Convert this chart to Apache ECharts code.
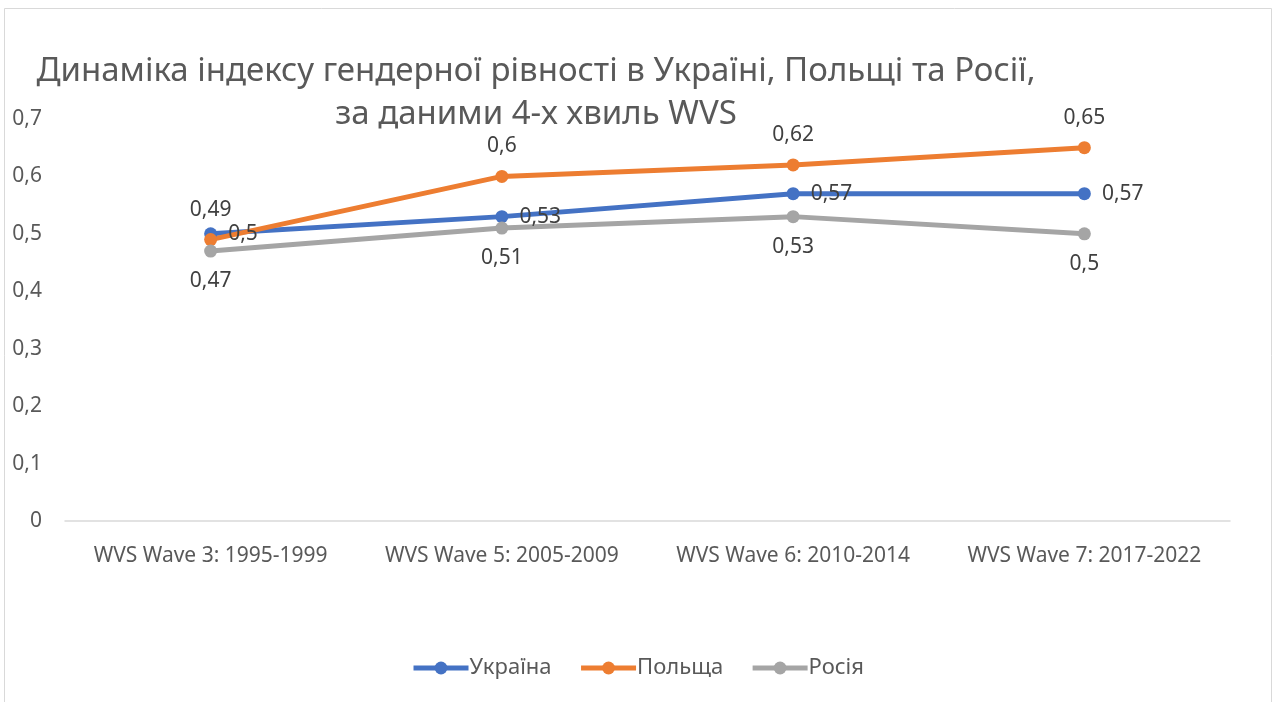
<!DOCTYPE html>
<html>
<head>
<meta charset="utf-8">
<script src="https://cdn.jsdelivr.net/npm/echarts@6/dist/echarts.min.js"></script>
<style>
  html, body { margin: 0; padding: 0; background: #fff; }
  #chart { width: 1275px; height: 702px; }
</style>
</head>
<body>
<div id="chart"></div>
<script>
// хвилі WVS
var waves = ['WVS Wave 3: 1995-1999', 'WVS Wave 5: 2005-2009', 'WVS Wave 6: 2010-2014', 'WVS Wave 7: 2017-2022'];
var ukraine = [0.5, 0.53, 0.57, 0.57];
var poland = [0.49, 0.6, 0.62, 0.65];
var russia = [0.47, 0.51, 0.53, 0.5];
var titleLines = ['Динаміка індексу гендерної рівності в Україні, Польщі та Росії,', 'за даними 4-х хвиль WVS'];

var font = 'Noto Sans';

function comma(v) {
  return String(v).replace('.', ',');
}

function makeSeries(name, data, color, pos) {
  return {
    name: name,
    type: 'line',
    data: data,
    color: color,
    symbol: 'circle',
    symbolSize: 13,
    lineStyle: { width: 5, color: color },
    itemStyle: { color: color },
    label: {
      show: true,
      position: pos,
      distance: pos == 'right' ? 11 : 13,
      color: '#404040',
      fontFamily: font,
      fontSize: 21,
      formatter: function (p) { return comma(p.value); }
    }
  };
}

var chart = echarts.init(document.getElementById('chart'));
var option = {
  animation: false,
  textStyle: { fontFamily: font },
  graphic: [
    {
      type: 'rect',
      shape: { x: 4.5, y: 8.5, width: 1267, height: 720 },
      style: { fill: null, stroke: '#d9d9d9', lineWidth: 1 },
      silent: true
    },
    {
      type: 'text',
      x: 536,
      y: 50,
      style: {
        text: titleLines.join('\n'),
        fill: '#595959',
        fontFamily: font,
        fontSize: 33,
        lineHeight: 43,
        align: 'center'
      }
    }
  ],
  grid: {
    left: 65,
    right: 45,
    top: 119,
    bottom: 181,
    containLabel: false
  },
  legend: {
    bottom: 18,
    left: 'center',
    itemWidth: 55,
    itemHeight: 16,
    itemGap: 27,
    lineStyle: { width: 5 },
    textStyle: { color: '#595959', fontSize: 22, fontFamily: font, padding: [0, 0, 0, -4] },
    data: ['Україна', 'Польща', 'Росія']
  },
  xAxis: {
    type: 'category',
    data: waves,
    boundaryGap: true,
    axisTick: { show: false },
    axisLine: { lineStyle: { color: '#d9d9d9', width: 1.5 } },
    axisLabel: { color: '#595959', fontSize: 21, fontFamily: font, margin: 25, interval: 0, hideOverlap: false }
  },
  yAxis: {
    type: 'value',
    min: 0,
    max: 0.7,
    interval: 0.1,
    splitLine: { show: false },
    axisLine: { show: false },
    axisTick: { show: false },
    axisLabel: {
      color: '#595959',
      fontSize: 21,
      fontFamily: font,
      margin: 23,
      formatter: function (v) { return comma(Math.round(v * 10) / 10); }
    }
  },
  series: [
    makeSeries('Україна', ukraine, '#4472c4', 'right'),
    makeSeries('Польща', poland, '#ed7d31', 'top'),
    makeSeries('Росія', russia, '#a5a5a5', 'bottom')
  ]
};
chart.setOption(option);
</script>
</body>
</html>
